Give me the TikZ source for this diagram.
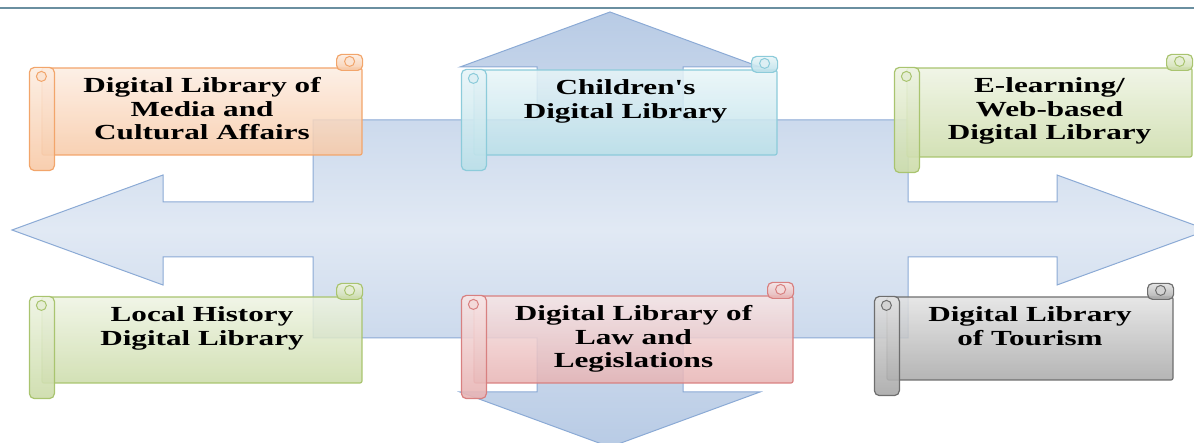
\documentclass[tikz,border=0pt]{standalone}
\usepackage{fontspec}
\newfontfamily\scrollfont[FakeStretch=1.45]{Liberation Serif}
\usetikzlibrary{positioning}

\definecolor{peach}{HTML}{F2A56B}
\definecolor{aqua}{HTML}{8CCBDA}
\definecolor{leaf}{HTML}{A9C46F}
\definecolor{rose}{HTML}{D88080}
\definecolor{slate}{HTML}{6E6E6E}
\definecolor{arrowline}{HTML}{8BAAD5}
\definecolor{arrowtop}{HTML}{B8CBE5}
\definecolor{arrowmid}{HTML}{E1E9F4}
\definecolor{rulecol}{HTML}{6A8FA0}

\begin{document}
\begin{tikzpicture}[x=1pt, y=-1pt, thick,
  scroll/.style={draw=#1, top color=#1!20!white, bottom color=#1!60!white, fill opacity=0.85, rounded corners=2pt, minimum height=86pt, inner sep=0pt, line width=1.2pt},
  curl/.style={draw=#1, top color=#1!20!white, bottom color=#1!60!white, fill opacity=0.9, rounded corners=5pt, line width=1.2pt},
  scroll text/.style={font=\scrollfont\bfseries\fontsize{21.5}{23.5}\selectfont, align=center, inner sep=0pt}]
\useasboundingbox (0,0) rectangle (1194,443);
\clip (0,0) rectangle (1194,443);

\draw[rulecol, line width=1.5pt] (0,8) -- (1194,8);

% four-way arrow behind the scrolls
\draw[arrowline, line width=1pt, top color=arrowtop, bottom color=arrowtop, middle color=arrowmid]
  (12,230) -- (163,175) -- (163,202) -- (313,202) -- (313,120) -- (537,120) -- (537,67)
  -- (460,67) -- (610,12) -- (760,67) -- (683,67) -- (683,120) -- (908,120) -- (908,202)
  -- (1057,202) -- (1057,175) -- (1208,230) -- (1057,285) -- (1057,257) -- (908,257)
  -- (908,338) -- (683,338) -- (683,392) -- (760,392) -- (610,447) -- (460,392)
  -- (537,392) -- (537,338) -- (313,338) -- (313,257) -- (163,257) -- (163,285) -- cycle;

% scroll bodies
\node[scroll=peach, minimum width=320pt, minimum height=87pt] (media) at (202,111.5) {};
\node[scroll=aqua, minimum width=303pt, minimum height=85pt] (children) at (625.5,112.5) {};
\node[scroll=leaf, minimum width=285pt, minimum height=89pt] (elearning) at (1049.5,112.5) {};
\node[scroll=leaf, minimum width=320pt] (history) at (202,340) {};
\node[scroll=rose, minimum width=319pt, minimum height=87pt] (law) at (633.5,339.5) {};
\node[scroll=slate, minimum width=286pt, minimum height=83pt] (tourism) at (1030,338.5) {};

% rolled ends
\foreach \n/\c in {media/peach, children/aqua, elearning/leaf, history/leaf, law/rose, tourism/slate}{
  \draw[curl=\c] ([xshift=-12pt]\n.north west) rectangle ([xshift=13pt,yshift=-15pt]\n.south west);
  \draw[curl=\c] ([xshift=-26pt,yshift=13pt]\n.north east) rectangle ([yshift=-3pt]\n.north east);
  \draw[draw=\c, line width=1pt, fill=white!70!\c] ([yshift=-9pt]\n.north west) circle (5pt);
  \draw[draw=\c, line width=1pt, fill=white!70!\c] ([xshift=-13pt,yshift=6pt]\n.north east) circle (5pt);
}

\node[scroll text, below=10pt of media.north] (media text) {Digital Library of\\Media and\\Cultural Affairs};
\node[scroll text, below=10pt of children.north] (children text) {Children's\\Digital Library};
\node[scroll text, below=10pt of elearning.north] (elearning text) {E-learning/\\Web-based\\Digital Library};
\node[scroll text, below=10pt of history.north] (history text) {Local History\\Digital Library};
\node[scroll text, below=10pt of law.north] (law text) {Digital Library of\\Law and\\Legislations};
\node[scroll text, below=10pt of tourism.north] (tourism text) {Digital Library\\of Tourism};

\end{tikzpicture}
\end{document}
